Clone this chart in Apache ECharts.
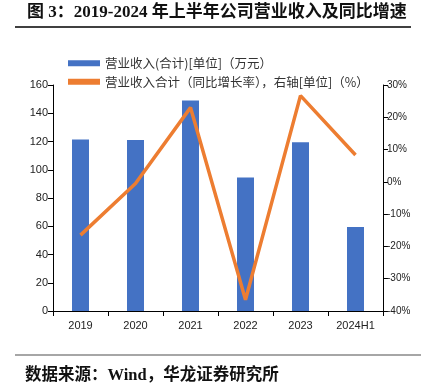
<!DOCTYPE html>
<html>
<head>
<meta charset="utf-8">
<script src="https://cdn.jsdelivr.net/npm/echarts@6/dist/echarts.min.js"></script>
<style>html,body{margin:0;padding:0;background:#fff}#c{width:421px;height:384px}</style>
</head>
<body>
<div id="c"></div>
<script>
var categories = ['2019', '2020', '2021', '2022', '2023', '2024H1'];
var revenue = [121.5, 121, 149, 94.5, 119.5, 59.5];
var growth = [-16.5, -0.5, 23, -36.5, 26.7, 8.3];
var leftTicks = {min: 0, max: 160, interval: 20};
var rightTicks = {min: -40, max: 30, interval: 10};
var nameBar = '营业收入(合计)[单位]（万元）';
var nameLine = '营业收入合计（同比增长率），右轴[单位]（%）';
var titleText = '图 3：2019-2024 年上半年公司营业收入及同比增速';
var sourceText = '数据来源：Wind，华龙证券研究所';

var chart = echarts.init(document.getElementById('c'), null, {renderer: 'canvas'});
var axisFont = {fontFamily: 'Liberation Sans, Arial, sans-serif', fontSize: 11, color: '#222'};
chart.setOption({
  animation: false,
  backgroundColor: '#fff',
  grid: {left: 53, right: 38, top: 85, bottom: 73, containLabel: false},
  legend: {
    orient: 'vertical', left: 63, top: 52, itemWidth: 32, itemHeight: 6, itemGap: 6,
    textStyle: {fontFamily: 'Noto Sans CJK SC', fontSize: 12.5, color: '#333'},
    data: [{name: nameBar, icon: 'rect'}, {name: nameLine, icon: 'rect', itemStyle: {color: '#ED7D31'}}]
  },
  xAxis: {
    type: 'category', data: categories, boundaryGap: true,
    axisLine: {lineStyle: {color: '#000', width: 1}},
    axisTick: {show: true, alignWithLabel: false, length: 5, lineStyle: {color: '#000'}},
    axisLabel: Object.assign({margin: 9}, axisFont)
  },
  yAxis: [{
    type: 'value', min: leftTicks.min, max: leftTicks.max, interval: leftTicks.interval,
    axisLine: {show: true, lineStyle: {color: '#000'}},
    axisTick: {show: true, length: 5, lineStyle: {color: '#000'}},
    splitLine: {show: false},
    axisLabel: Object.assign({margin: 5}, axisFont)
  }, {
    type: 'value', position: 'right', min: rightTicks.min, max: rightTicks.max, interval: rightTicks.interval,
    axisLine: {show: true, lineStyle: {color: '#000'}},
    axisTick: {show: true, length: 5, lineStyle: {color: '#000'}},
    splitLine: {show: false},
    axisLabel: Object.assign({margin: 4, formatter: '{value}%'}, axisFont, {fontSize: 10})
  }],
  series: [{
    name: nameBar, type: 'bar', data: revenue, barWidth: 17,
    itemStyle: {color: '#4472C4'}
  }, {
    name: nameLine, type: 'line', yAxisIndex: 1, data: growth,
    symbol: 'none', lineStyle: {color: '#ED7D31', width: 3.5}, itemStyle: {color: '#ED7D31'}
  }],
  graphic: [
    {type: 'text', left: 27, top: 4, style: {text: titleText, font: 'bold 17px "Liberation Serif", "Noto Sans CJK SC"', fill: '#111'}},
    {type: 'line', shape: {x1: 15, y1: 27, x2: 411, y2: 27}, style: {stroke: '#000', lineWidth: 1.5}},
    {type: 'line', shape: {x1: 15, y1: 355, x2: 421, y2: 355}, style: {stroke: '#888', lineWidth: 1.5}},
    {type: 'text', left: 25, top: 367, style: {text: sourceText, font: 'bold 16.5px "Liberation Serif", "Noto Sans CJK SC"', fill: '#111'}}
  ]
});
</script>
</body>
</html>
